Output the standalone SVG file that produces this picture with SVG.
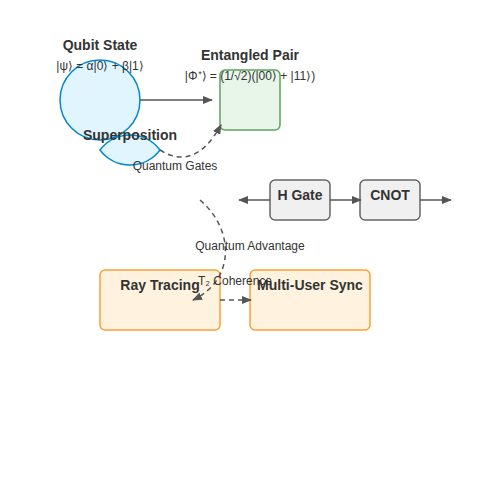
<svg xmlns="http://www.w3.org/2000/svg" width="500" height="500" viewBox="0 0 500 500">
<style>
.t{font-family:"Liberation Sans",Arial,sans-serif;fill:#333;text-anchor:middle}
.b{font-size:14px;font-weight:bold}
.s{font-size:12px}
.ln{fill:none;stroke:#555;stroke-width:1.5}
.d{stroke-dasharray:5,4}
</style>
<defs>
<marker id="ah" markerWidth="10" markerHeight="8" refX="9" refY="4" orient="auto" markerUnits="userSpaceOnUse">
<path d="M0,0 L10,4 L0,8 Z" fill="#555"/>
</marker>
</defs>
<rect width="500" height="500" fill="#fff"/>
<g id="qubit">
<circle cx="100" cy="100" r="40" fill="#e1f5fe" stroke="#0288d1" stroke-width="1.5"/>
<text class="t b" x="100" y="50">Qubit State</text>
<text class="t s" x="100" y="70">|ψ⟩ = α|0⟩ + β|1⟩</text>
</g>
<g id="entangled">
<rect x="220" y="70" width="60" height="60" rx="5" fill="#e8f5e9" stroke="#5ca35c" stroke-width="1.5"/>
<text class="t b" x="250" y="60">Entangled Pair</text>
<text class="t s" x="250" y="80">|Φ⁺⟩ = (1/√2)(|00⟩ + |11⟩)</text>
</g>
<g id="superposition">
<path d="M100,150 A37.5,37.5 0 0 1 160,150 A37.5,37.5 0 0 1 100,150 Z" fill="#e1f5fe" stroke="#0288d1" stroke-width="1.5"/>
<text class="t b" x="130" y="140">Superposition</text>
</g>
<g id="hgate">
<rect x="270" y="180" width="60" height="40" rx="5" fill="#f0f0f0" stroke="#666" stroke-width="1.5"/>
<text class="t b" x="300" y="200">H Gate</text>
</g>
<g id="cnot">
<rect x="360" y="180" width="60" height="40" rx="5" fill="#f0f0f0" stroke="#666" stroke-width="1.5"/>
<text class="t b" x="390" y="200">CNOT</text>
</g>
<g id="raytracing">
<rect x="100" y="270" width="120" height="60" rx="5" fill="#fff3e0" stroke="#ffa030" stroke-width="1.5"/>
<text class="t b" x="160" y="290">Ray Tracing</text>
</g>
<g id="multiuser">
<rect x="250" y="270" width="120" height="60" rx="5" fill="#fff3e0" stroke="#ffa030" stroke-width="1.5"/>
<text class="t b" x="310" y="290">Multi-User Sync</text>
</g>
<g id="connectors">
<line class="ln" x1="140" y1="100" x2="212" y2="100" marker-end="url(#ah)"/>
<path class="ln d" d="M160,150 Q195,172 221,125" marker-end="url(#ah)"/>
<text class="t s" x="175" y="170">Quantum Gates</text>
<line class="ln" x1="270" y1="200" x2="239" y2="200" marker-end="url(#ah)"/>
<line class="ln" x1="330" y1="200" x2="361" y2="200" marker-end="url(#ah)"/>
<line class="ln" x1="420" y1="200" x2="451" y2="200" marker-end="url(#ah)"/>
<path class="ln d" d="M200,200 C235,230 235,280 193,300" marker-end="url(#ah)"/>
<text class="t s" x="250" y="250">Quantum Advantage</text>
<line class="ln d" x1="220" y1="300" x2="251" y2="300" marker-end="url(#ah)"/>
<text class="t s" x="235" y="285">T₂ Coherence</text>
</g>
</svg>
